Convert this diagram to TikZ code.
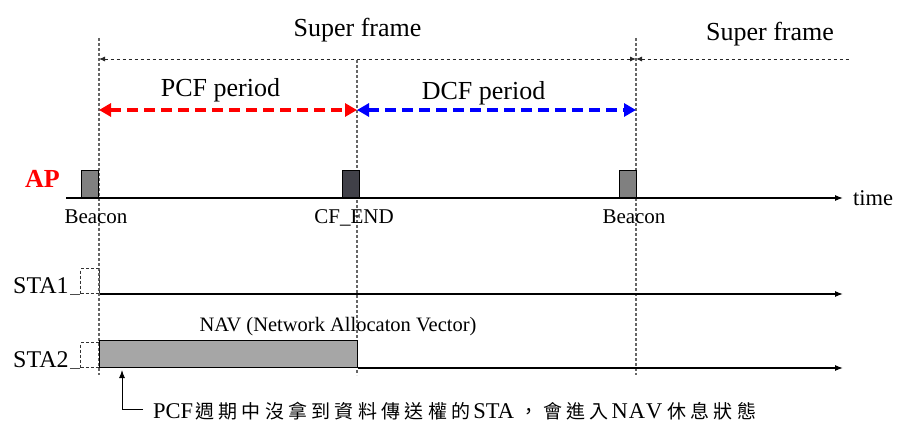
\documentclass[tikz,border=0pt]{standalone}
\usepackage{fontspec}
\setmainfont{Liberation Serif}
\newfontfamily\cjk[LetterSpace=22.6]{Noto Sans CJK TC}
\usetikzlibrary{arrows.meta}
\definecolor{endgray}{HTML}{404048}
\newcommand{\zh}[1]{{\cjk\fontsize{19}{22}\selectfont #1}}
\begin{document}
\begin{tikzpicture}[x=1pt, y=-1pt,
  every node/.style={inner sep=0pt},
  big/.style={font=\fontsize{26}{30}\selectfont},
  small/.style={font=\fontsize{21}{24}\selectfont},
  sta/.style={font=\fontsize{24}{28}\selectfont},
  guide/.style={draw=black!60, line width=1.3pt, dash pattern=on 3pt off 2pt},
  span/.style={black!85, line width=0.9pt, dash pattern=on 3pt off 3pt},
  period/.style={line width=4.5pt, dash pattern=on 11pt off 6pt,
    {Triangle[length=12pt,width=13pt]}-{Triangle[length=12pt,width=13pt]}},
  axis/.style={line width=1.2pt, -{Latex[length=8pt,width=6pt]}},
  frame/.style={draw=black, line width=1.2pt},
  slot/.style={draw=black!80, line width=1pt, dash pattern=on 3pt off 2pt}]
  \useasboundingbox (0,0) rectangle (903,433);
  \coordinate (g1t) at (99,38);  \coordinate (g1b) at (99,375);
  \coordinate (g2t) at (357,60); \coordinate (g2b) at (357,375);
  \coordinate (g3t) at (636,38); \coordinate (g3b) at (636,375);
  \draw[guide] (g1t) -- (g1b);
  \draw[guide] (g2t) -- (g2b);
  \draw[guide] (g3t) -- (g3b);
  \coordinate (sf1) at (99,59); \coordinate (sf2) at (636,59); \coordinate (sf3) at (850,59);
  \draw[span, {Latex[length=6pt,width=5pt]}-{Latex[length=6pt,width=5pt]}] (sf1) -- (sf2);
  \draw[span, {Latex[length=6pt,width=5pt]}-] (sf2) -- (sf3);
  \node[big, anchor=base] (super1) at (357.5,37) {Super frame};
  \node[big, anchor=base] (super2) at (770,40.5) {Super frame};
  \coordinate (p1) at (99,110); \coordinate (p2) at (357,110); \coordinate (p3) at (636,110);
  \draw[period, red] (p1) -- (p2);
  \draw[period, blue] (p2) -- (p3);
  \node[big, anchor=base] (pcf) at (220.5,96.5) {PCF period};
  \node[big, anchor=base] (dcf) at (483.5,100) {DCF period};
  \node[red, anchor=base west, font=\fontsize{26}{30}\selectfont\bfseries] (ap) at (25,188) {AP};
  \coordinate (ap0) at (66,198); \coordinate (ap1) at (843,198);
  \draw[axis] (ap0) -- (ap1);
  \node[anchor=base west, font=\fontsize{22.5}{26}\selectfont] (time) at (853,205) {time};
  \node[frame, fill=black!50, minimum width=17pt, minimum height=27pt, anchor=south east] (beacon1) at (99,198) {};
  \node[frame, fill=endgray, minimum width=17pt, minimum height=27pt, anchor=south east] (cfend) at (360,198) {};
  \node[frame, fill=black!50, minimum width=17pt, minimum height=27pt, anchor=south east] (beacon2) at (637,198) {};
  \node[small, anchor=base] (lb1) at (96,224) {Beacon};
  \node[small, anchor=base] (lcf) at (354,224) {CF\_END};
  \node[small, anchor=base] (lb2) at (634,224) {Beacon};
  \node[sta, anchor=base west] (sta1) at (13,293) {STA1};
  \node[slot, minimum width=19pt, minimum height=25pt, anchor=south west] (slot1) at (80,294) {};
  \coordinate (s10) at (70,294); \coordinate (s11) at (843,294);
  \draw[line width=1pt, black!70] (s10) -- (slot1.south west);
  \draw[axis] (slot1.south east) -- (s11);
  \node[sta, anchor=base west] (sta2) at (13,367) {STA2};
  \node[slot, minimum width=19pt, minimum height=25pt, anchor=south west] (slot2) at (80,368) {};
  \node[frame, fill=black!35, minimum width=258pt, minimum height=27pt, anchor=south west] (nav) at (99,368) {};
  \coordinate (s20) at (70,368); \coordinate (s21) at (843,368);
  \draw[line width=1pt, black!70] (s20) -- (slot2.south west);
  \draw[axis] (nav.south east) -- (s21);
  \node[anchor=base, font=\fontsize{20.5}{24}\selectfont] (navlabel) at (338,331) {NAV (Network Allocaton Vector)};
  \node[anchor=base west, font=\fontsize{22.5}{26}\selectfont] (note) at (153,418)
    {PCF\kern2pt\zh{週期中沒拿到資料傳送權的}\kern3pt STA \zh{，會進入}\kern3pt N\kern1pt A\kern1pt V\kern5pt\zh{休息狀態}};
  \coordinate (corner) at (143,409);
  \coordinate (tip) at (122,370);
  \draw[axis, line width=1pt] (corner) -| (tip);
\end{tikzpicture}
\end{document}
